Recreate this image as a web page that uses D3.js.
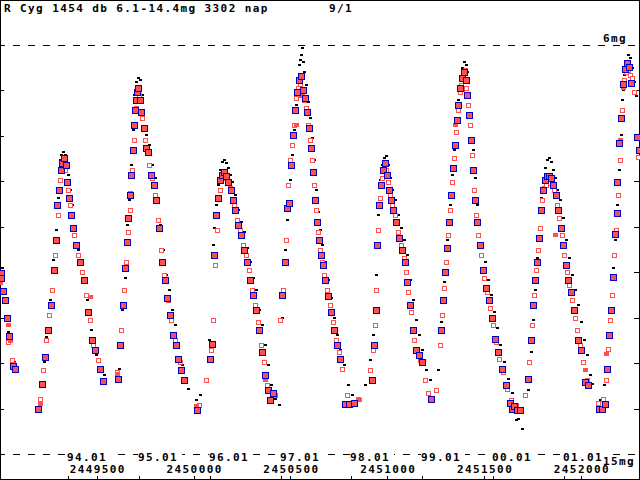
<!DOCTYPE html>
<html>
<head>
<meta charset="utf-8">
<script src="https://cdn.jsdelivr.net/npm/d3@7"></script>
<style>
  body { margin: 0; background: #fff; }
  svg { display: block; }
  text { font-family: "DejaVu Sans Mono", monospace; font-weight: bold; font-size: 11px; letter-spacing: 1.4px; fill: #000; }
</style>
</head>
<body>
<svg id="chart" width="640" height="480"></svg>
<script>
// header texts
const title = "R Cyg 1454 db 6.1-14.4mg 3302 nap";
const dateStamp = "9/1";

// axes
const jdRange = [2449000, 2452300];
const magRange = [6, 15];
const magTicks = [7, 8, 9, 10, 11, 12, 13, 14];
const jdTicks = [2449500, 2450000, 2450500, 2451000, 2451500, 2452000];
const yearJD = [2449353.5, 2449718.5, 2450083.5, 2450449.5, 2450814.5, 2451179.5, 2451544.5, 2451910.5];
const yearLabels = ["94.01", "95.01", "96.01", "97.01", "98.01", "99.01", "00.01", "01.01"];

// observations [JD, mag]
const blackObs = [
  [2449010,10.91],[2449041,12.32],[2449052,12.46],[2449072,12.98],[2449212,13.87],
  [2449227,12.98],[2449238,12.43],[2449258,11.62],[2449274,10.74],[2449289,10.08],[2449300,9.37],[2449310,8.53],[2449315,8.42],[2449325,8.36],[2449336,8.42],[2449341,8.53],[2449351,8.86],[2449361,9.19],[2449372,9.52],[2449387,10.19],[2449403,10.52],[2449408,10.85],[2449429,11.22],[2449449,11.62],[2449470,12.28],[2449496,12.83],[2449537,13.27],
  [2449615,13.12],[2449630,11.84],[2449646,11.13],[2449656,9.97],[2449666,9.41],[2449676,8.64],[2449687,7.87],[2449692,7.10],[2449702,6.82],[2449713,6.73],[2449723,6.77],[2449733,7.10],[2449738,7.43],[2449754,7.98],[2449769,8.20],[2449785,8.64],[2449800,8.93],[2449816,9.41],[2449826,9.97],[2449842,10.52],[2449857,11.07],[2449873,11.40],[2449888,11.84],[2449904,12.17],[2449919,12.61],[2449940,13.05],[2449961,13.38],[2449971,13.56],
  [2450012,13.82],[2450033,13.71],[2450079,12.50],[2450100,10.41],[2450105,10.03],[2450115,9.52],[2450126,9.08],[2450136,8.75],[2450146,8.58],[2450157,8.53],[2450167,8.60],[2450177,8.71],[2450188,8.86],[2450198,9.02],[2450214,9.30],[2450229,9.64],[2450245,9.90],[2450260,10.12],[2450276,10.47],[2450291,10.78],[2450306,11.13],[2450322,11.40],[2450337,11.84],[2450353,12.17],[2450368,12.61],[2450384,13.05],[2450399,13.49],[2450420,13.78],[2450441,13.93],
  [2450456,12.01],[2450472,10.52],[2450482,9.86],[2450498,8.97],[2450508,8.42],[2450518,7.87],[2450529,7.32],[2450539,6.82],[2450544,6.44],[2450549,6.33],[2450554,6.22],[2450560,6.07],[2450565,6.37],[2450570,6.59],[2450580,6.88],[2450591,7.26],[2450601,7.61],[2450611,8.05],[2450621,8.53],[2450632,9.19],[2450642,9.68],[2450652,10.08],[2450663,10.41],[2450678,10.78],[2450694,11.18],[2450709,11.57],[2450725,12.01],[2450740,12.39],[2450756,12.72],[2450776,13.05],[2450797,13.49],[2450818,13.71],
  [2450885,13.49],[2450911,12.94],[2450926,12.39],[2450942,11.07],[2450952,9.75],[2450962,8.97],[2450973,8.64],[2450983,8.49],[2450993,8.45],[2451004,8.64],[2451014,8.93],[2451024,9.19],[2451040,9.41],[2451055,9.75],[2451071,10.03],[2451086,10.30],[2451102,10.63],[2451117,11.18],[2451133,11.62],[2451148,12.06],[2451164,12.39],[2451179,12.72],[2451200,13.16],[2451221,13.38],
  [2451262,13.16],[2451277,12.10],[2451293,11.22],[2451308,10.30],[2451324,9.52],[2451334,8.86],[2451344,8.31],[2451355,7.76],[2451365,7.21],[2451375,6.73],[2451386,6.51],[2451396,6.37],[2451406,6.44],[2451412,6.59],[2451422,7.10],[2451432,7.61],[2451443,8.31],[2451453,8.93],[2451463,9.52],[2451474,9.97],[2451489,10.41],[2451505,10.78],[2451520,11.18],[2451536,11.51],[2451551,11.88],[2451567,12.23],[2451582,12.61],[2451603,12.98],[2451623,13.34],[2451644,13.65],[2451665,14.26],[2451675,14.22],[2451696,14.44],
  [2451727,13.60],[2451742,12.76],[2451752,12.06],[2451763,11.40],[2451773,10.69],[2451783,10.08],[2451794,9.37],[2451804,8.97],[2451814,8.71],[2451825,8.53],[2451835,8.49],[2451845,8.58],[2451856,8.75],[2451866,8.93],[2451876,9.19],[2451892,9.41],[2451907,9.81],[2451923,10.30],[2451938,10.69],[2451954,11.07],[2451969,11.40],[2451985,11.73],[2452000,12.10],[2452016,12.50],[2452031,12.83],[2452047,13.27],[2452057,13.45],
  [2452098,13.82],[2452119,13.49],[2452135,12.83],[2452145,12.10],[2452155,11.51],[2452166,10.91],[2452176,10.30],[2452186,9.52],[2452196,8.75],[2452207,7.98],[2452212,7.21],[2452217,6.99],[2452222,6.66],[2452233,6.37],[2452243,6.22],[2452253,6.29],[2452264,6.51],[2452274,6.82],[2452284,7.12]
];

const redOpenObs = [
  [2449041,12.54],[2449062,12.94],[2449207,13.80],
  [2449222,13.16],[2449238,12.50],[2449253,11.95],[2449269,11.40],[2449284,10.63],[2449300,9.75],[2449310,8.97],[2449325,8.58],[2449336,8.75],[2449351,9.19],[2449361,9.52],[2449382,10.19],[2449403,10.63],[2449423,11.00],[2449444,11.51],[2449465,12.06],[2449480,12.61],[2449506,12.94],
  [2449604,13.20],[2449625,12.28],[2449640,11.40],[2449651,10.78],[2449661,10.12],[2449671,9.64],[2449682,8.75],[2449692,8.09],[2449702,7.39],[2449718,7.10],[2449733,7.61],[2449749,8.09],[2449769,8.64],[2449785,8.93],[2449800,9.30],[2449816,9.86],[2449831,10.52],[2449847,11.07],[2449868,11.62],[2449883,12.06],[2449904,12.50],[2449930,12.98],
  [2450028,13.93],[2450064,13.38],[2450090,12.72],[2450100,12.06],[2450110,10.85],[2450121,10.08],[2450136,9.19],[2450152,8.93],[2450172,8.97],[2450188,9.15],[2450208,9.52],[2450224,9.86],[2450239,10.08],[2450255,10.41],[2450270,10.63],[2450286,10.96],[2450301,11.40],[2450317,11.73],[2450332,12.10],[2450348,12.61],[2450363,12.98],[2450379,13.49],[2450420,13.71],
  [2450446,12.06],[2450461,11.40],[2450477,10.30],[2450487,9.08],[2450498,8.53],[2450508,8.20],[2450518,7.76],[2450529,7.17],[2450539,6.95],[2450549,6.86],[2450560,7.10],[2450570,7.21],[2450580,7.39],[2450591,7.76],[2450601,8.09],[2450611,8.53],[2450621,9.08],[2450632,9.64],[2450642,10.12],[2450652,10.52],[2450663,10.78],[2450673,11.07],[2450689,11.40],[2450704,11.73],[2450720,12.10],[2450735,12.50],[2450751,12.76],[2450766,13.12],[2450792,13.71],
  [2450849,13.78],[2450911,13.16],[2450926,12.72],[2450936,12.17],[2450942,11.40],[2450952,10.08],[2450962,9.37],[2450973,8.93],[2450983,8.71],[2450993,8.75],[2451004,9.02],[2451014,9.30],[2451024,9.52],[2451040,9.75],[2451055,10.12],[2451071,10.41],[2451086,10.69],[2451097,11.00],[2451107,11.44],[2451122,11.88],[2451138,12.50],[2451153,12.68],[2451169,12.94],[2451195,13.38],[2451210,13.65],
  [2451252,13.60],[2451272,12.61],[2451283,11.95],[2451293,11.35],[2451303,10.78],[2451313,10.19],[2451324,9.64],[2451334,9.02],[2451344,8.49],[2451355,7.92],[2451365,7.43],[2451375,7.04],[2451381,6.88],[2451391,6.68],[2451401,6.55],[2451406,6.95],[2451417,7.32],[2451427,7.76],[2451437,8.42],[2451448,9.19],[2451458,9.75],[2451468,10.19],[2451484,10.63],[2451499,11.13],[2451515,11.44],[2451530,11.79],[2451546,12.17],[2451561,12.54],[2451577,12.90],[2451598,13.20],[2451618,13.56],[2451639,13.82],[2451665,13.93],
  [2451711,13.71],[2451732,12.98],[2451747,12.17],[2451758,11.51],[2451768,10.96],[2451778,10.52],[2451789,10.03],[2451799,9.41],[2451809,9.15],[2451819,9.08],[2451840,9.04],[2451851,8.97],[2451861,9.19],[2451876,9.52],[2451887,9.81],[2451902,10.19],[2451912,10.63],[2451928,11.00],[2451938,11.29],[2451954,11.62],[2451969,12.01],[2451980,12.28],[2451995,12.61],[2452011,12.98],[2452031,13.38],
  [2452088,13.87],[2452114,13.78],[2452129,13.38],[2452140,12.68],[2452150,12.06],[2452160,11.51],[2452171,10.63],[2452181,10.08],[2452191,9.30],[2452202,8.53],[2452212,7.43],[2452222,6.77],[2452233,6.59],[2452243,6.55],[2452253,6.66],[2452264,6.73],[2452274,7.04],[2452295,8.47]
];

const redFillObs = [
  [2449000,11.24],[2449041,12.17],[2449052,12.52],[2449067,13.03],[2449207,13.91],[2449465,11.55],
  [2449604,13.25],[2449671,9.26],[2450012,13.95],[2450368,13.38],[2450529,7.76],[2450554,7.12],
  [2450854,13.82],[2451133,12.28],[2451350,7.76],[2451386,6.99],[2451427,8.09],[2451866,10.19],
  [2452021,13.16],[2452129,12.79],[2452135,13.16],[2452202,8.09],[2452217,6.95]
];

const blueObs = [
  [2449005,11.02],[2449005,11.13],[2449015,11.42],[2449026,11.62],[2449036,12.01],[2449046,12.41],[2449067,13.07],[2449077,13.12],
  [2449196,14.02],[2449217,13.45],[2449232,12.87],[2449248,12.28],[2449263,11.73],[2449279,10.96],[2449289,10.30],[2449294,9.52],[2449305,9.19],[2449315,8.75],[2449320,8.60],[2449330,8.49],[2449341,8.64],[2449346,9.02],[2449356,9.37],[2449367,9.75],[2449377,10.03],[2449392,10.41],[2449413,10.78],[2449434,11.18],[2449454,11.88],[2449475,12.50],[2449491,12.72],[2449516,13.12],[2449532,13.40],
  [2449609,13.34],[2449620,12.61],[2449635,11.73],[2449646,10.91],[2449656,10.34],[2449661,9.81],[2449671,9.30],[2449676,8.86],[2449687,8.31],[2449692,7.76],[2449697,7.43],[2449702,7.21],[2449707,7.04],[2449713,6.95],[2449723,7.21],[2449728,7.48],[2449744,7.83],[2449754,8.27],[2449764,8.36],[2449780,8.86],[2449795,9.08],[2449806,9.41],[2449821,10.03],[2449837,10.78],[2449852,11.18],[2449862,11.57],[2449878,11.95],[2449893,12.39],[2449909,12.61],[2449919,12.90],[2449935,13.16],[2449950,13.38],
  [2450017,14.04],[2450084,12.90],[2450095,12.57],[2450105,10.63],[2450115,9.75],[2450126,9.37],[2450136,8.97],[2450146,8.86],[2450157,8.80],[2450167,8.89],[2450177,9.02],[2450193,9.19],[2450203,9.41],[2450214,9.64],[2450229,9.97],[2450245,10.19],[2450260,10.52],[2450276,10.78],[2450291,11.18],[2450306,11.51],[2450322,11.84],[2450337,12.28],[2450353,12.76],[2450368,13.27],[2450384,13.60],[2450394,13.82],[2450410,13.65],
  [2450456,11.51],[2450472,10.78],[2450482,9.59],[2450492,9.48],[2450503,8.64],[2450513,7.98],[2450523,7.43],[2450534,7.04],[2450544,6.77],[2450554,6.68],[2450565,6.99],[2450575,7.17],[2450585,7.48],[2450596,7.83],[2450606,8.27],[2450616,8.80],[2450627,9.41],[2450637,9.90],[2450647,10.30],[2450658,10.63],[2450668,10.85],[2450678,11.18],[2450694,11.53],[2450709,11.88],[2450725,12.28],[2450740,12.61],[2450756,12.90],[2450782,13.91],[2450802,13.91],[2450828,13.87],
  [2450921,13.38],[2450931,12.61],[2450942,11.84],[2450947,10.41],[2450957,9.52],[2450967,9.08],[2450978,8.75],[2450988,8.60],[2450998,8.86],[2451009,9.19],[2451019,9.41],[2451029,9.64],[2451045,9.90],[2451060,10.25],[2451076,10.52],[2451091,10.78],[2451102,11.22],[2451117,11.73],[2451133,12.28],[2451148,12.72],[2451164,12.83],[2451179,12.98],[2451226,13.78],
  [2451277,12.28],[2451288,11.62],[2451298,11.00],[2451308,10.47],[2451319,9.90],[2451329,9.30],[2451339,8.71],[2451350,8.20],[2451360,7.65],[2451365,7.32],[2451375,6.95],[2451386,6.73],[2451396,6.59],[2451406,6.77],[2451412,7.10],[2451422,7.54],[2451432,8.09],[2451443,8.75],[2451453,9.41],[2451463,9.90],[2451479,10.41],[2451494,10.96],[2451510,11.35],[2451525,11.62],[2451541,12.01],[2451556,12.46],[2451572,12.76],[2451592,13.12],[2451613,13.49],[2451634,13.87],[2451644,14.00],[2451654,13.95],[2451670,14.04],[2451685,14.04],
  [2451727,13.34],[2451742,12.50],[2451752,11.73],[2451763,11.18],[2451773,10.78],[2451783,10.25],[2451794,9.64],[2451804,9.19],[2451814,8.97],[2451825,8.89],[2451835,8.89],[2451845,8.93],[2451856,9.08],[2451871,9.30],[2451882,9.64],[2451897,10.03],[2451907,10.41],[2451923,10.85],[2451933,11.18],[2451949,11.44],[2451964,11.84],[2451985,12.50],[2452000,12.72],[2452021,13.42],[2452036,13.49],
  [2452093,14.00],[2452109,14.02],[2452124,13.91],[2452135,13.12],[2452145,12.39],[2452155,11.84],[2452166,11.11],[2452176,10.16],[2452186,9.70],[2452186,9.02],[2452196,8.16],[2452207,7.61],[2452217,6.86],[2452227,6.53],[2452238,6.40],[2452248,6.48],[2452259,6.84],[2452290,8.03],[2452300,8.31]
];

const svg = d3.select("#chart");

const x = d3.scaleLinear().domain(jdRange).range([0, 639]);
const y = d3.scaleLinear().domain(magRange).range([45, 454]);
const px = d => Math.round(x(d[0]));
const py = d => Math.round(y(d[1]));

// frame
svg.append("rect")
  .attr("x", 0.5).attr("y", 0.5)
  .attr("width", 638.5).attr("height", 478.5)
  .attr("fill", "none").attr("stroke", "#000")
  .attr("shape-rendering", "crispEdges");

// dashed limit lines at 6 and 15 mag
svg.selectAll(".limit")
  .data(magRange)
  .join("line")
  .attr("class", "limit")
  .attr("x1", 0).attr("x2", 640)
  .attr("y1", d => Math.round(y(d)) + 0.5)
  .attr("y2", d => Math.round(y(d)) + 0.5)
  .attr("stroke", "#000")
  .attr("stroke-dasharray", "7,8")
  .attr("stroke-dashoffset", 2)
  .attr("shape-rendering", "crispEdges");

// magnitude ticks, both sides
const leftAxis = svg.append("g")
  .call(d3.axisRight(y).tickValues(magTicks).tickSize(4).tickFormat(""));
const rightAxis = svg.append("g")
  .attr("transform", "translate(639,0)")
  .call(d3.axisLeft(y).tickValues(magTicks).tickSize(5).tickFormat(""));
const timeAxis = svg.append("g")
  .attr("transform", "translate(0,479)")
  .call(d3.axisTop(x).tickValues(yearJD.concat(jdTicks)).tickSize(3).tickFormat(""));
[leftAxis, rightAxis, timeAxis].forEach(g => {
  g.select(".domain").remove();
  g.selectAll("line").attr("stroke", "#000").attr("shape-rendering", "crispEdges");
});

// observations
svg.append("g").selectAll("rect")
  .data(blackObs)
  .join("rect")
  .attr("x", d => px(d) - 1).attr("y", d => py(d) - 1)
  .attr("width", 3).attr("height", 2)
  .attr("fill", "#000")
  .attr("shape-rendering", "crispEdges");

svg.append("g").selectAll("rect")
  .data(redOpenObs)
  .join("rect")
  .attr("x", d => px(d) - 1.5).attr("y", d => py(d) - 1.5)
  .attr("width", 4).attr("height", 4)
  .attr("fill", "#fff").attr("stroke", "#ff5050")
  .attr("shape-rendering", "crispEdges");

svg.append("g").selectAll("rect")
  .data(redFillObs)
  .join("rect")
  .attr("x", d => px(d) - 2).attr("y", d => py(d) - 2)
  .attr("width", 5).attr("height", 4)
  .attr("fill", "#ff5050")
  .attr("shape-rendering", "crispEdges");

// blue-framed squares: 7x7 blue, 5x5 red inside
const blueG = svg.append("g").selectAll("g")
  .data(blueObs)
  .join("g")
  .attr("transform", d => `translate(${px(d)},${py(d)})`);
blueG.append("rect")
  .attr("x", -3).attr("y", -3).attr("width", 7).attr("height", 7)
  .attr("fill", "#0000c0")
  .attr("shape-rendering", "crispEdges");
blueG.append("rect")
  .attr("x", -2).attr("y", -2).attr("width", 5).attr("height", 5)
  .attr("fill", "#ff5050")
  .attr("shape-rendering", "crispEdges");

// time labels
const yearG = svg.append("g").selectAll("g")
  .data(yearJD)
  .join("g")
  .attr("transform", d => `translate(${Math.round(x(d)) - 1},461)`);
yearG.append("rect")
  .attr("x", 0).attr("y", -9).attr("width", 44).attr("height", 10)
  .attr("fill", "#fff");
yearG.append("text")
  .text((d, i) => yearLabels[i]);

svg.append("g").selectAll("text")
  .data(jdTicks)
  .join("text")
  .attr("x", d => x(d) + 1)
  .attr("y", 473)
  .attr("text-anchor", "middle")
  .text(d => d);

// header and limit labels
svg.append("text").attr("x", 4).attr("y", 12).text(title);
svg.append("text").attr("x", 329).attr("y", 12).text(dateStamp);
svg.append("text").attr("x", 603).attr("y", 42).text(magRange[0] + "mg");
svg.append("text").attr("x", 603).attr("y", 465).text(magRange[1] + "mg");
</script>
</body>
</html>
